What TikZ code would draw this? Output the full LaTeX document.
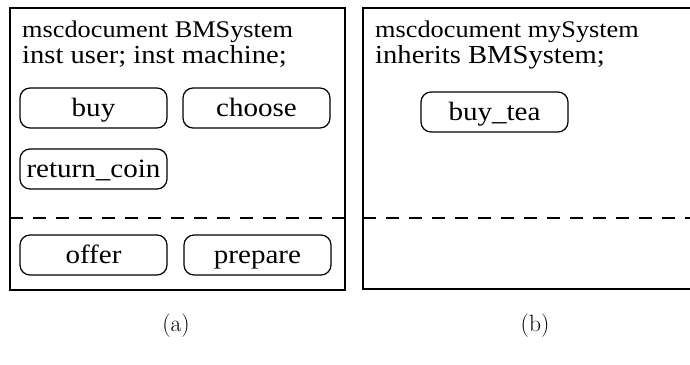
\documentclass[tikz,border=0pt]{standalone}
\usepackage{fontspec}
\newfontfamily\tms{Liberation Serif}[FakeStretch=1.1]
\tikzset{
  frame/.style={line width=1.4pt},
  sepline/.style={line width=1.2pt, dash pattern=on 13pt off 10pt},
  evt/.style={draw, line width=1.2pt, rounded corners=10pt,
    minimum width=147pt, minimum height=40pt, inner sep=0pt,
    text height=16pt, text depth=0pt,
    font=\tms\fontsize{26.4}{27}\selectfont},
  headA/.style={anchor=base west, inner sep=0pt, font=\tms\fontsize{23.9}{24}\selectfont},
  headB/.style={anchor=base west, inner sep=0pt, font=\tms\fontsize{26}{26}\selectfont},
  captionlabel/.style={inner sep=0pt, font=\fontsize{23.5}{24}\selectfont}
}
\begin{document}
\begin{tikzpicture}[x=1pt, y=-1pt]
  \useasboundingbox (0,0) rectangle (690,364);

  % (a) base document
  \draw[frame] (10,8) rectangle (345,290);
  \draw[sepline] (10,218) -- (345,218);
  \node[headA] (a1) at (22,37) {mscdocument BMSystem};
  \node[headB] (a2) at (22,63) {inst user; inst machine;};
  \node[evt] (buy)    at (93.5,108)  {buy};
  \node[evt] (choose) at (256.5,108) {choose};
  \node[evt] (ret)    at (93.5,169)  {return\_coin};
  \node[evt] (offer)  at (93.5,255)  {offer};
  \node[evt] (prep)   at (257.5,255) {prepare};

  % (b) inheriting document, open on the right
  \draw[frame] (692,8) -- (363,8) -- (363,289) -- (692,289);
  \draw[sepline] (363,218) -- (692,218);
  \node[headA] (b1) at (375,37) {mscdocument mySystem};
  \node[headB] (b2) at (375,63) {inherits BMSystem;};
  \node[evt] (tea) at (494.5,112) {buy\_tea};

  % captions
  \node[captionlabel] (capA) at (176,326) {(a)};
  \node[captionlabel] (capB) at (535,326) {(b)};
\end{tikzpicture}
\end{document}
